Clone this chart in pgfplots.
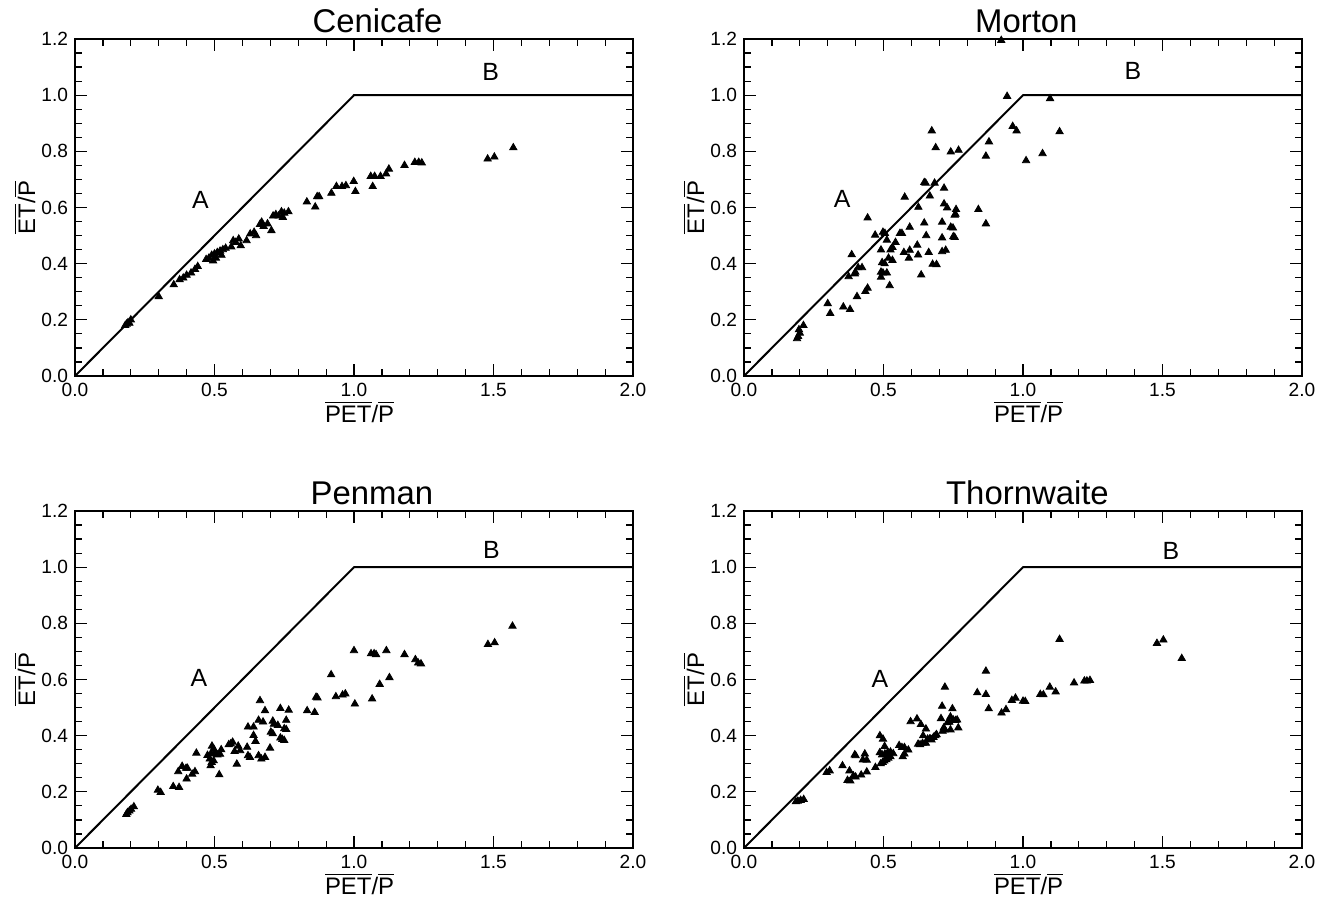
\documentclass[border=0pt]{standalone}
\usepackage{pgfplots}
\pgfplotsset{compat=1.18}
\usepackage{fontspec}
\setmainfont{Liberation Sans}
\pgfplotsset{
  panel/.style={
    scale only axis, width=279bp, height=168.5bp,
    xmin=0, xmax=2, ymin=0, ymax=1.2,
    xtick={0,0.5,1,1.5,2}, ytick={0,0.2,0.4,0.6,0.8,1.0,1.2},
    minor x tick num=4, minor y tick num=3,
    tick align=inside, major tick length=6bp, minor tick length=3.5bp,
    tick style={black, line width=0.6bp},
    axis line style={line width=0.9bp},
    xticklabel style={/pgf/number format/.cd, fixed, fixed zerofill, precision=1, assume math mode=true},
    yticklabel style={/pgf/number format/.cd, fixed, fixed zerofill, precision=1, assume math mode=true},
    tick label style={font=\fontsize{9.6}{10}\selectfont},
    label style={font=\fontsize{12}{13}\selectfont},
    xlabel style={at={(axis description cs:0.51,0)}, anchor=center, yshift=-18bp},
    ylabel style={at={(axis description cs:-0.0896,0.5)}, anchor=center},
    title style={font=\fontsize{16.5}{18}\selectfont, anchor=base, yshift=-2.5bp},
    xlabel={$\overline{\mbox{PET}}\mbox{/}\overline{\mbox{P}}$},
    ylabel={$\overline{\mbox{ET}}\mbox{/}\overline{\mbox{P}}$},
    clip=false,
  },
  env/.style={black, line width=1bp},
  pts/.style={only marks, mark=triangle*, mark size=2.1bp, black},
}
\tikzset{lab/.style={font=\fontsize{12.5}{13}\selectfont}}
\begin{document}
\begin{tikzpicture}
\path[use as bounding box] (0,0) rectangle (665bp,452bp);
% ---------------- Cenicafe
\begin{axis}[panel, at={(37.5bp,264bp)}, anchor=south west,
  title={Cenicafe}, title style={at={(rel axis cs:0.542,1)}}]
\addplot[env] coordinates {(0,0)(1,1)(2,1)};
\addplot[pts] table {
x y
0.18 0.18
0.185 0.185
0.19 0.19
0.20 0.20
0.195 0.188
0.30 0.283
0.354 0.325
0.375 0.343
0.388 0.349
0.40 0.359
0.416 0.367
0.43 0.38
0.44 0.39
0.47 0.415
0.48 0.42
0.49 0.43
0.495 0.41
0.50 0.435
0.51 0.44
0.52 0.445
0.53 0.45
0.525 0.43
0.505 0.42
0.54 0.455
0.567 0.482
0.576 0.476
0.587 0.488
0.594 0.464
0.56 0.46
0.615 0.482
0.628 0.506
0.642 0.512
0.649 0.50
0.663 0.54
0.669 0.548
0.676 0.533
0.69 0.542
0.704 0.518
0.71 0.57
0.72 0.575
0.73 0.57
0.74 0.585
0.75 0.58
0.765 0.585
0.745 0.565
0.831 0.62
0.861 0.602
0.868 0.639
0.875 0.639
0.919 0.651
0.937 0.675
0.957 0.675
0.971 0.678
0.999 0.693
1.005 0.657
1.067 0.675
1.06 0.711
1.074 0.711
1.095 0.711
1.115 0.72
1.125 0.737
1.181 0.75
1.218 0.761
1.232 0.761
1.243 0.759
1.479 0.773
1.503 0.78
1.571 0.813
};
\node[lab] at (axis cs:0.45,0.627) {A};
\node[lab] at (axis cs:1.49,1.084) {B};
\end{axis}
% ---------------- Morton
\begin{axis}[panel, at={(372bp,264bp)}, anchor=south west,
  title={Morton}, title style={at={(rel axis cs:0.506,1)}}]
\addplot[env] coordinates {(0,0)(1,1)(2,1)};
\addplot[pts] table {
x y
0.922 1.195
0.943 0.996
1.097 0.988
0.963 0.889
0.977 0.873
1.131 0.87
0.673 0.873
0.687 0.813
0.741 0.798
0.769 0.804
0.878 0.834
0.867 0.783
1.011 0.767
1.07 0.792
0.646 0.689
0.651 0.687
0.683 0.687
0.717 0.669
0.576 0.637
0.666 0.641
0.443 0.563
0.625 0.601
0.717 0.613
0.728 0.599
0.76 0.593
0.758 0.576
0.755 0.573
0.84 0.593
0.867 0.542
0.646 0.545
0.71 0.548
0.741 0.530
0.749 0.527
0.75 0.496
0.755 0.494
0.71 0.492
0.594 0.53
0.559 0.508
0.566 0.508
0.653 0.50
0.47 0.502
0.498 0.512
0.505 0.508
0.512 0.484
0.491 0.449
0.525 0.449
0.532 0.458
0.543 0.476
0.386 0.432
0.621 0.466
0.573 0.44
0.594 0.448
0.591 0.42
0.624 0.431
0.662 0.44
0.71 0.443
0.723 0.448
0.518 0.42
0.532 0.412
0.495 0.404
0.504 0.40
0.676 0.398
0.69 0.397
0.423 0.386
0.409 0.386
0.399 0.37
0.397 0.364
0.375 0.354
0.491 0.37
0.498 0.367
0.512 0.367
0.491 0.352
0.635 0.36
0.522 0.322
0.443 0.313
0.435 0.301
0.405 0.283
0.30 0.258
0.309 0.223
0.356 0.246
0.38 0.237
0.213 0.18
0.197 0.165
0.20 0.153
0.194 0.141
0.19 0.133
};
\node[lab] at (axis cs:0.352,0.629) {A};
\node[lab] at (axis cs:1.394,1.087) {B};
\end{axis}
% ---------------- Penman
\begin{axis}[panel, at={(37.5bp,28bp)}, anchor=south west,
  title={Penman}, title style={at={(rel axis cs:0.532,1)}}]
\addplot[env] coordinates {(0,0)(1,1)(2,1)};
\addplot[pts] table {
x y
1.568 0.79
1.48 0.725
1.504 0.731
1.0 0.703
1.116 0.703
1.061 0.692
1.072 0.692
1.079 0.689
1.181 0.689
1.22 0.671
1.23 0.659
1.24 0.656
1.127 0.607
1.092 0.583
0.918 0.617
0.935 0.539
0.959 0.545
0.969 0.549
1.003 0.513
1.065 0.531
0.864 0.537
0.869 0.535
0.832 0.489
0.859 0.483
0.663 0.525
0.681 0.489
0.736 0.497
0.766 0.491
0.658 0.455
0.674 0.449
0.709 0.452
0.713 0.441
0.757 0.455
0.727 0.437
0.75 0.425
0.757 0.422
0.702 0.413
0.709 0.407
0.736 0.392
0.743 0.387
0.75 0.383
0.62 0.431
0.64 0.431
0.64 0.401
0.647 0.38
0.617 0.359
0.565 0.377
0.558 0.371
0.551 0.368
0.585 0.363
0.592 0.347
0.572 0.344
0.699 0.356
0.62 0.329
0.627 0.323
0.658 0.329
0.668 0.317
0.681 0.323
0.58 0.299
0.491 0.363
0.497 0.353
0.524 0.35
0.475 0.33
0.487 0.335
0.50 0.34
0.51 0.332
0.52 0.334
0.483 0.317
0.49 0.305
0.497 0.311
0.486 0.293
0.517 0.261
0.435 0.338
0.37 0.272
0.384 0.291
0.398 0.284
0.403 0.284
0.42 0.263
0.43 0.272
0.40 0.246
0.352 0.219
0.373 0.216
0.297 0.206
0.307 0.198
0.188 0.126
0.195 0.132
0.201 0.138
0.211 0.147
0.184 0.12
};
\node[lab] at (axis cs:0.444,0.605) {A};
\node[lab] at (axis cs:1.493,1.06) {B};
\end{axis}
% ---------------- Thornwaite
\begin{axis}[panel, at={(372bp,28bp)}, anchor=south west,
  title={Thornwaite}, title style={at={(rel axis cs:0.508,1)}}]
\addplot[env] coordinates {(0,0)(1,1)(2,1)};
\addplot[pts] table {
x y
1.131 0.743
1.48 0.729
1.503 0.741
1.569 0.675
0.867 0.63
0.72 0.573
0.836 0.553
0.867 0.547
0.877 0.496
0.923 0.481
0.939 0.493
0.96 0.526
0.973 0.534
1.0 0.523
1.008 0.522
1.062 0.547
1.073 0.546
1.096 0.573
1.117 0.556
1.183 0.588
1.22 0.595
1.229 0.595
1.24 0.597
0.71 0.505
0.747 0.496
0.706 0.461
0.74 0.467
0.75 0.456
0.758 0.454
0.764 0.456
0.736 0.448
0.729 0.446
0.768 0.428
0.74 0.421
0.716 0.428
0.72 0.421
0.712 0.416
0.597 0.45
0.62 0.46
0.634 0.44
0.652 0.424
0.642 0.40
0.665 0.388
0.679 0.394
0.686 0.40
0.69 0.404
0.658 0.388
0.669 0.388
0.672 0.385
0.624 0.37
0.631 0.368
0.64 0.373
0.652 0.373
0.487 0.40
0.498 0.388
0.504 0.362
0.487 0.34
0.495 0.332
0.505 0.335
0.515 0.34
0.525 0.342
0.535 0.336
0.49 0.30
0.497 0.305
0.503 0.31
0.51 0.315
0.517 0.32
0.525 0.325
0.556 0.365
0.566 0.358
0.575 0.358
0.575 0.335
0.569 0.325
0.589 0.349
0.471 0.287
0.433 0.335
0.426 0.314
0.44 0.313
0.397 0.332
0.40 0.329
0.353 0.293
0.378 0.275
0.371 0.241
0.381 0.239
0.392 0.257
0.40 0.253
0.42 0.26
0.44 0.271
0.296 0.269
0.307 0.275
0.186 0.165
0.193 0.167
0.203 0.17
0.214 0.173
};
\node[lab] at (axis cs:0.487,0.603) {A};
\node[lab] at (axis cs:1.53,1.057) {B};
\end{axis}
\end{tikzpicture}
\end{document}
